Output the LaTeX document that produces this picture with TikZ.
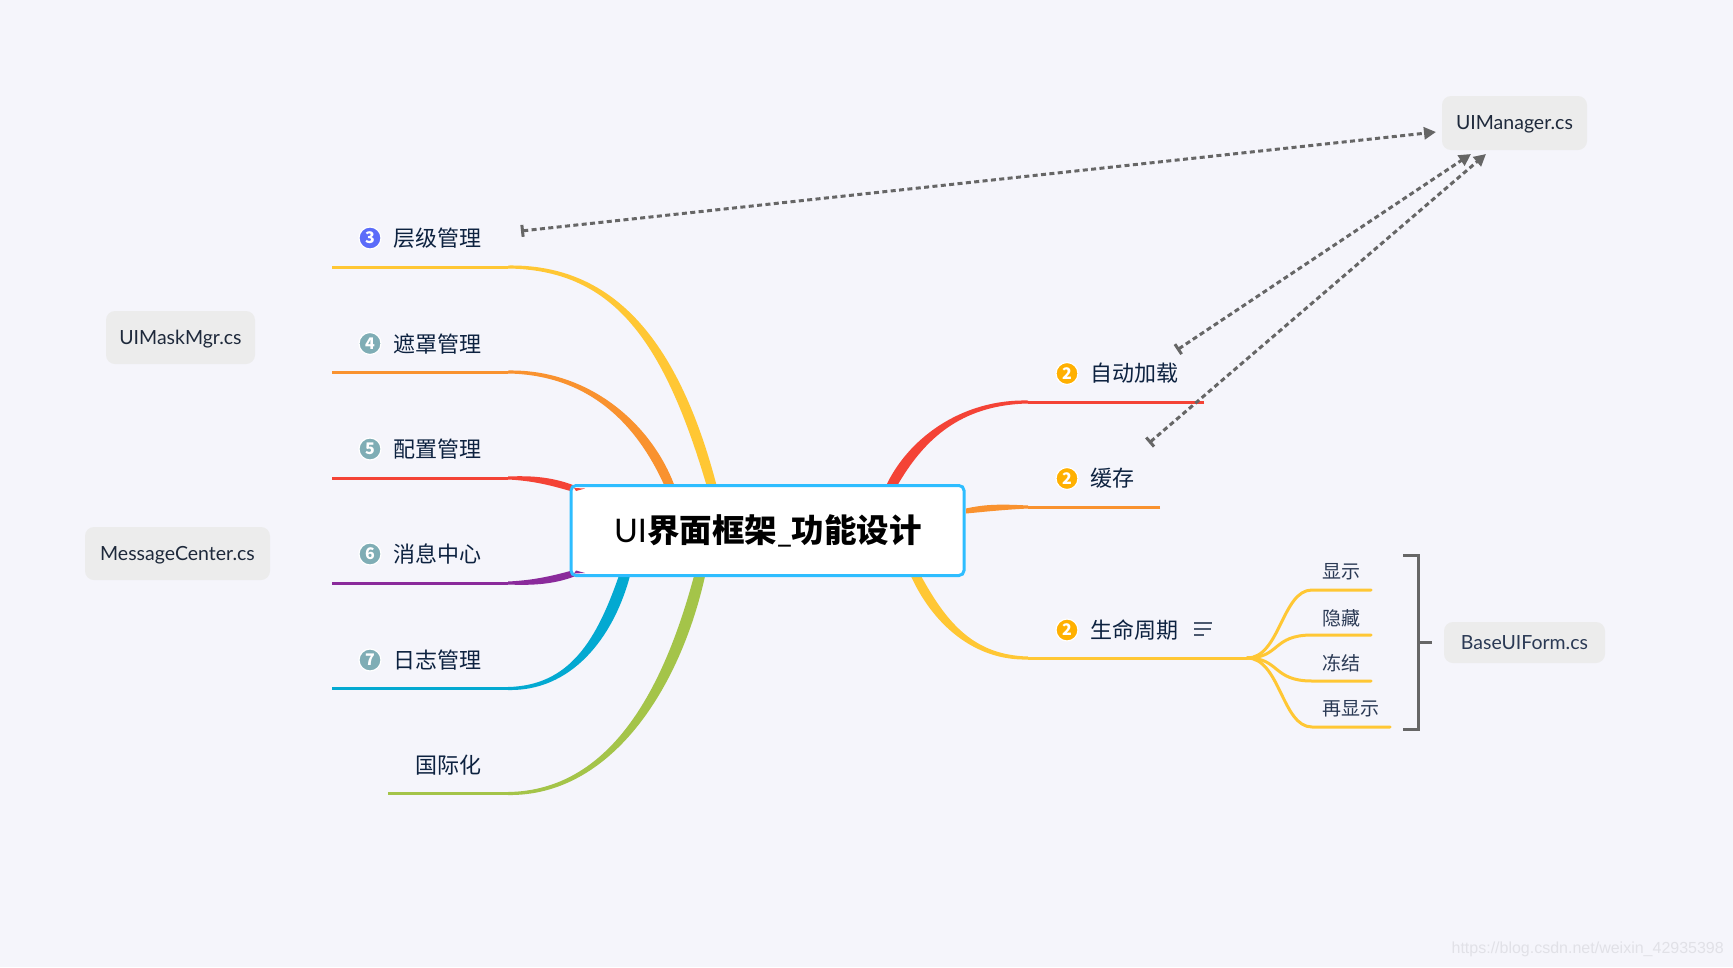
\documentclass[tikz,border=0pt]{standalone}
\usepackage{fontspec}
\usetikzlibrary{arrows.meta,calc}
\newfontfamily\cjk{Noto Sans CJK SC}
\newfontfamily\lat{Lato}
\newfontfamily\wm{Liberation Sans}
\definecolor{bgc}{HTML}{F5F5FB}
\definecolor{cyel}{HTML}{FFC734}
\definecolor{cora}{HTML}{F9922F}
\definecolor{cred}{HTML}{F44336}
\definecolor{cpur}{HTML}{8A2A9B}
\definecolor{cblu}{HTML}{03A9D1}
\definecolor{cgrn}{HTML}{A4C449}
\definecolor{cbox}{HTML}{2EBDFF}
\definecolor{ink}{HTML}{0D2240}
\definecolor{ink2}{HTML}{2B3A55}
\definecolor{grayln}{HTML}{666666}
\definecolor{badgeblue}{HTML}{5B6CF9}
\definecolor{badgeteal}{HTML}{7FADB5}
\definecolor{badgeamb}{HTML}{FFB000}
\definecolor{notefill}{HTML}{ECECEC}
\pgfdeclarelayer{back}
\pgfsetlayers{back,main}
\tikzset{
  x=1pt,y=-1pt,
  label/.style={inner sep=0pt,anchor=west,text=ink,font=\cjk\fontsize{22}{26}\selectfont},
  sublabel/.style={inner sep=0pt,anchor=west,text=ink2,font=\cjk\fontsize{19}{23}\selectfont},
  badge/.style={circle,draw=white,line width=1.2pt,minimum size=22pt,inner sep=0pt,text=white,font=\cjk\bfseries\fontsize{16}{16}\selectfont},
  note/.style={rounded corners=9pt,fill=notefill,inner sep=0pt,text=ink2!70!black,text depth=0pt,font=\lat\fontsize{19.5}{23}\selectfont},
  root/.style={rounded corners=5pt,fill=white,draw=cbox,line width=3pt,inner sep=0pt},
  trunk/.style={line width=3pt},
  twig/.style={line width=3pt,color=cyel,line cap=round},
  rel/.style={draw=grayln,line width=3pt,dash pattern=on 5pt off 3.4pt,{Bar[width=12pt,line width=3pt]}-{Triangle[length=12pt,width=12pt]}},
  bracketline/.style={draw=grayln,line width=3pt},
}
% colour, start, end, c1, c2, signed half width at the end, shift axis at the end
\newcommand{\taper}[7]{%
  \fill[#1] ([yshift=1.5pt]#2) .. controls ([yshift=3pt]#4) and ([#7=1.5*(#6)*1pt]#5) .. ([#7=(#6)*1pt]#3)
     -- ([#7=-1*(#6)*1pt]#3) .. controls ([#7=-1.5*(#6)*1pt]#5) and ([yshift=-3pt]#4) .. ([yshift=-1.5pt]#2) -- cycle;}
\begin{document}
\begin{tikzpicture}
\begin{pgfonlayer}{back}
\path[use as bounding box,fill=bgc] (0,0) rectangle (1733,967);
\end{pgfonlayer}

% root
\node[root,minimum width=393pt,minimum height=90pt] (root) at (767.5,530.5) {};
\node[inner sep=0pt,text=black] (roottext) at (768,531) {\fontsize{32.5}{38}\selectfont{\lat UI}{\cjk\bfseries 界面框架}{\lat\_}{\cjk\bfseries 功能设计}};

% left badges and labels
\node[badge,fill=badgeblue] (b3) at (370,238) {3};
\node[label] (t3) at (393.5,238.5) {层级管理};
\node[badge,fill=badgeteal] (b4) at (370,343.5) {4};
\node[label] (t4) at (393.5,344) {遮罩管理};
\node[badge,fill=badgeteal] (b5) at (370,449) {5};
\node[label] (t5) at (393.5,449) {配置管理};
\node[badge,fill=badgeteal] (b6) at (370,554) {6};
\node[label] (t6) at (393.5,554.5) {消息中心};
\node[badge,fill=badgeteal] (b7) at (370,660) {7};
\node[label] (t7) at (393.5,660) {日志管理};
\node[label] (t8) at (415.5,765) {国际化};

% right badges and labels
\node[badge,fill=badgeamb] (r1) at (1067,373.5) {2};
\node[label] (tr1) at (1090.5,373.5) {自动加载};
\node[badge,fill=badgeamb] (r2) at (1067,478.5) {2};
\node[label] (tr2) at (1090.5,478.5) {缓存};
\node[badge,fill=badgeamb] (r3) at (1067,630) {2};
\node[label] (tr3) at (1090.5,630) {生命周期};

% sub labels
\node[sublabel] (s1) at (1322.5,572) {显示};
\node[sublabel] (s2) at (1322.5,618) {隐藏};
\node[sublabel] (s3) at (1322.5,663) {冻结};
\node[sublabel] (s4) at (1322.5,709) {再显示};

% notes
\node[note,minimum width=145pt,minimum height=54pt] (mgr) at (1514.5,123) {UIManager.cs};
\node[note,minimum width=149pt,minimum height=53pt] (mask) at (180.5,337.5) {UIMaskMgr.cs};
\node[note,minimum width=185pt,minimum height=53pt] (msg) at (177.5,553.5) {MessageCenter.cs};
\node[note,minimum width=161pt,minimum height=41pt,text=ink2] (base) at (1524.5,642.5) {BaseUIForm.cs};

% anchors of the branches
\coordinate (a1) at (332,267);  \coordinate (m1) at (508,267);
\coordinate (a2) at (332,372);  \coordinate (m2) at (508,372);
\coordinate (a3) at (332,478);  \coordinate (m3) at (508,478);
\coordinate (a4) at (332,583);  \coordinate (m4) at (508,583);
\coordinate (a5) at (332,688.5);\coordinate (m5) at (508,688.5);
\coordinate (a6) at (388,793.5);\coordinate (m6) at (508,793.5);
\coordinate (a7) at (1204,402); \coordinate (m7) at (1028,402);
\coordinate (a8) at (1160,507); \coordinate (m8) at (1028,507);
\coordinate (fork) at (1247,658);\coordinate (m9) at (1028,658);
\coordinate (e1) at (712,487);
\coordinate (e2) at (670,487);
\coordinate (e3) at (578,490);
\coordinate (e4) at (578,572);
\coordinate (e5) at (625,574);
\coordinate (e6) at (700,574);
\coordinate (e7) at (891,487);
\coordinate (e8) at (966,511);
\coordinate (e9) at (915,574);
\coordinate (f1) at (1312,590); \coordinate (g1) at (1371,590);
\coordinate (f2) at (1312,635); \coordinate (g2) at (1371,635);
\coordinate (f3) at (1312,681); \coordinate (g3) at (1371,681);
\coordinate (f4) at (1312,727); \coordinate (g4) at (1390,727);

\begin{pgfonlayer}{back}
\draw[trunk,cyel] (a1) -- (m1);
\draw[trunk,cora] (a2) -- (m2);
\draw[trunk,cred] (a3) -- (m3);
\draw[trunk,cpur] (a4) -- (m4);
\draw[trunk,cblu] (a5) -- (m5);
\draw[trunk,cgrn] (a6) -- (m6);
\draw[trunk,cred] (a7) -- (m7);
\draw[trunk,cora] (a8) -- (m8);
\draw[trunk,cyel] (fork) -- (m9);
\taper{cyel}{m1}{e1}{610,267}{670,335}{5}{xshift}
\taper{cora}{m2}{e2}{590,372}{645,425}{5}{xshift}
\taper{cred}{m3}{e3}{540,478}{560,484}{3}{yshift}
\taper{cpur}{m4}{e4}{540,583}{560,578}{3}{yshift}
\taper{cblu}{m5}{e5}{570,688.5}{605,640}{-5.5}{xshift}
\taper{cgrn}{m6}{e6}{610,793.5}{672,690}{-5.5}{xshift}
\taper{cred}{m7}{e7}{960,402}{915,440}{-5.5}{xshift}
\taper{cora}{m8}{e8}{1000,507}{985,508}{2.5}{yshift}
\taper{cyel}{m9}{e9}{975,658}{940,625}{5}{xshift}
\draw[twig] (fork) .. controls (1280,658) and (1282,590) .. (f1) -- (g1);
\draw[twig] (fork) .. controls (1280,658) and (1272,635) .. (f2) -- (g2);
\draw[twig] (fork) .. controls (1280,658) and (1272,681) .. (f3) -- (g3);
\draw[twig] (fork) .. controls (1280,658) and (1282,727) .. (f4) -- (g4);
\end{pgfonlayer}

% branch ends showing over the root's corners
\fill[cred] (574,488) -- (585,488.5) -- (576,491) -- cycle;
\fill[cpur] (574,573.5) -- (585,573) -- (576,570.5) -- cycle;

% note icon
\coordinate (i1) at (1194,623); \coordinate (i1e) at (1212,623);
\coordinate (i2) at (1194,629); \coordinate (i2e) at (1211,629);
\coordinate (i3) at (1194,635); \coordinate (i3e) at (1204,635);
\draw[line width=1.8pt,color=ink2!85] (i1) -- (i1e) (i2) -- (i2e) (i3) -- (i3e);

% bracket
\coordinate (br1) at (1403,555); \coordinate (br2) at (1418,555);
\coordinate (br3) at (1418,729); \coordinate (br4) at (1403,729);
\coordinate (br5) at (1418,642.5); \coordinate (br6) at (1432,642.5);
\draw[bracketline] (br1) -- (br2) -- (br3) -- (br4);
\draw[bracketline] (br5) -- (br6);

% relations
\coordinate (st1) at (521,231); \coordinate (en1) at (1436,132);
\coordinate (st2) at (1177,350); \coordinate (en2) at (1471,154);
\coordinate (st3) at (1149,443); \coordinate (en3) at (1486,154);
\draw[rel] (st1) -- (en1);
\draw[rel] (st2) -- (en2);
\draw[rel] (st3) -- (en3);

% watermark
\node[inner sep=0pt,anchor=east,text=black!8!bgc,font=\wm\fontsize{16}{18}\selectfont] (wmk) at (1724,949) {https://blog.csdn.net/weixin\_42935398};
\end{tikzpicture}
\end{document}
